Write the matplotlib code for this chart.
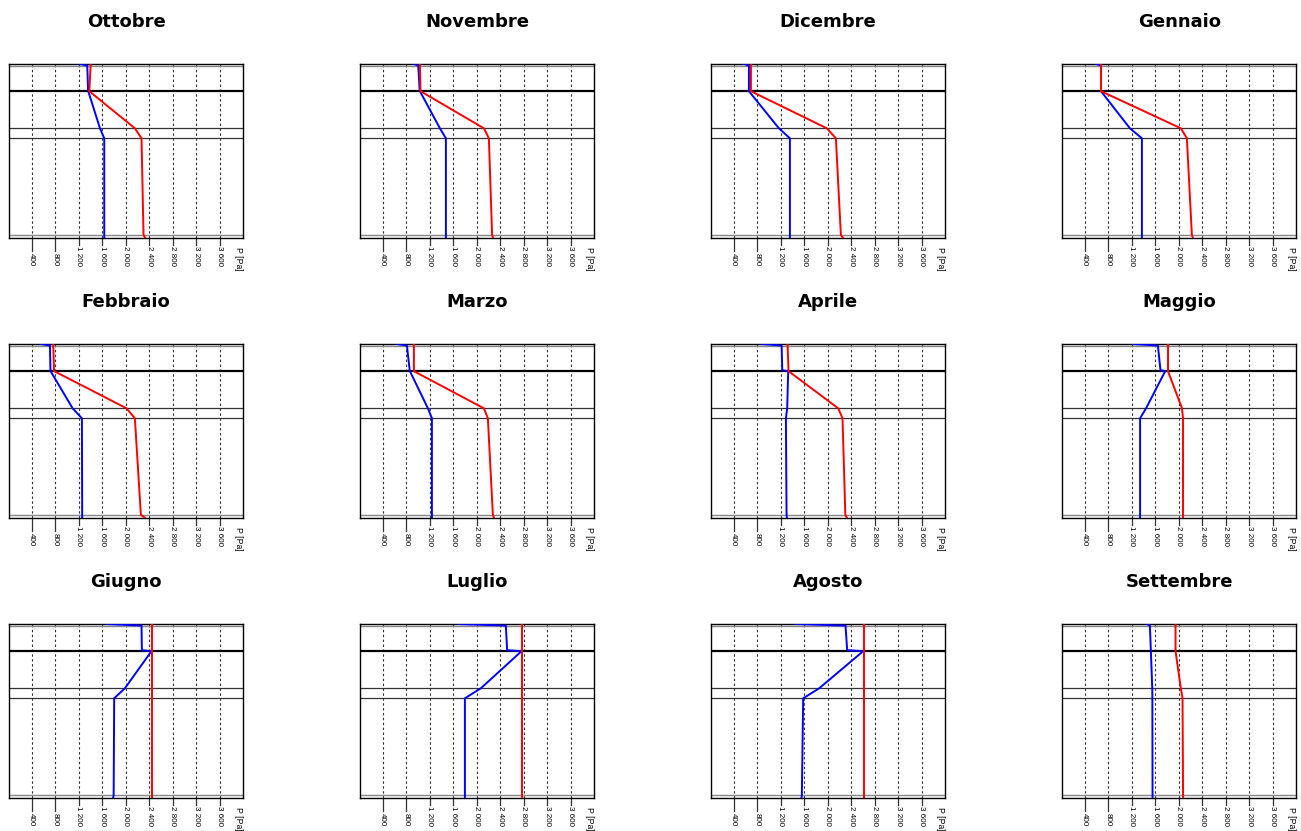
import matplotlib
matplotlib.use("Agg")
import matplotlib.pyplot as plt
import matplotlib.transforms as mtransforms

# Layer boundaries through the wall (exterior at top, interior at bottom)
depth = [0.0, 0.8, 1.6, 26.2, 27.2, 64.3, 74.3, 171.0, 173.7]
thin_lines = [1.6, 171.0]
layer_lines = [64.3, 74.3]
membrane_line = 26.7
p_ticks = [400, 800, 1200, 1600, 2000, 2400, 2800, 3200, 3600]

months = ["Ottobre", "Novembre", "Dicembre", "Gennaio",
          "Febbraio", "Marzo", "Aprile", "Maggio",
          "Giugno", "Luglio", "Agosto", "Settembre"]

# Vapour pressure (blue) and saturation pressure (red), Pa
pv_ott = [1222, 1290, 1346, 1360, 1363, 1562, 1635, 1635, 1635]
ps_ott = [1403, 1403, 1403, 1382, 1380, 2156, 2269, 2303, 2331]
pv_nov = [932, 970, 1006, 1030, 1034, 1374, 1476, 1476, 1476]
ps_nov = [1034, 1034, 1034, 1044, 1045, 2122, 2207, 2262, 2275]
pv_dic = [575, 620, 660, 660, 660, 1170, 1357, 1357, 1357]
ps_dic = [694, 694, 694, 694, 694, 1985, 2139, 2224, 2258]
pv_gen = [593, 640, 678, 678, 678, 1170, 1374, 1374, 1374]
ps_gen = [678, 678, 678, 678, 678, 2037, 2139, 2224, 2241]
pv_feb = [553, 640, 711, 720, 723, 1097, 1255, 1260, 1260]
ps_feb = [768, 768, 768, 780, 785, 2014, 2156, 2258, 2326]
pv_mar = [643, 730, 813, 860, 864, 1170, 1238, 1238, 1238]
ps_mar = [932, 932, 932, 932, 932, 2122, 2190, 2275, 2292]
pv_apr = [875, 1046, 1216, 1227, 1328, 1311, 1289, 1300, 1306]
ps_apr = [1318, 1318, 1318, 1333, 1335, 2178, 2252, 2300, 2326]
pv_mag = [1221, 1440, 1646, 1690, 1770, 1445, 1343, 1343, 1343]
ps_mag = [1818, 1818, 1818, 1818, 1818, 2056, 2073, 2073, 2073]
pv_giu = [1674, 1969, 2269, 2275, 2438, 1986, 1804, 1795, 1787]
ps_giu = [2455, 2455, 2455, 2455, 2455, 2455, 2455, 2455, 2455]
pv_lug = [1686, 2099, 2495, 2518, 2762, 2070, 1799, 1799, 1799]
ps_lug = [2773, 2773, 2773, 2773, 2773, 2773, 2773, 2773, 2773]
pv_ago = [1453, 1879, 2303, 2331, 2603, 1855, 1583, 1560, 1555]
ps_ago = [2615, 2615, 2615, 2615, 2615, 2615, 2615, 2615, 2615]
pv_set = [1453, 1485, 1510, 1526, 1527, 1550, 1552, 1555, 1555]
ps_set = [1946, 1946, 1946, 1946, 1946, 2036, 2065, 2074, 2076]

vapour = [pv_ott, pv_nov, pv_dic, pv_gen, pv_feb, pv_mar,
          pv_apr, pv_mag, pv_giu, pv_lug, pv_ago, pv_set]
saturation = [ps_ott, ps_nov, ps_dic, ps_gen, ps_feb, ps_mar,
              ps_apr, ps_mag, ps_giu, ps_lug, ps_ago, ps_set]

W, H = 1301, 831
fig = plt.figure(figsize=(W / 100, H / 100), dpi=100)
plt.rcParams["font.family"] = ["DejaVu Sans"]

ax_w, ax_h = 234.3, 173.7
tick_font = dict(family="Liberation Sans", size=5.8)

labels = []
for i, month in enumerate(months):
    row, col = divmod(i, 4)
    left = 9 + 351 * col
    top = 64 + 280 * row
    ax = fig.add_axes([left / W, 1 - (top + ax_h) / H, ax_w / W, ax_h / H])
    ax.set_xlim(15, 4000)
    ax.set_ylim(depth[-1], depth[0])
    for x in p_ticks:
        ax.axvline(x, color="#333333", lw=0.8, ls=(0, (2.2, 2.2)), zorder=1)
    for y in thin_lines:
        ax.axhline(y, color="#888888", lw=1.0, zorder=1)
    for y in layer_lines:
        ax.axhline(y, color="#333333", lw=0.9, zorder=1)
    ax.axhline(membrane_line, color="black", lw=1.6, zorder=1)
    ax.plot(vapour[i], depth, color="#0000ff", lw=1.4, zorder=3)
    ax.plot(saturation[i], depth, color="#ff0000", lw=1.4, zorder=4)
    ax.set_xticks([])
    ax.set_yticks([])
    for s in ax.spines.values():
        s.set_linewidth(1.0)
    ax.text(0.5, 1 + 42 / ax_h, month, transform=ax.transAxes, ha="center",
            va="center", fontsize=13, fontweight="bold")
    trans = mtransforms.blended_transform_factory(ax.transData, ax.transAxes)
    for x in p_ticks:
        t = ax.text(x, -28.5 / ax_h, "{:,}".format(x).replace(",", " "),
                    transform=trans, rotation=-90, rotation_mode="anchor",
                    ha="right", va="center", fontdict=tick_font, clip_on=False)
        labels.append((ax, x, t))
    ax.text(1 - 5 / ax_w, -9 / ax_h, "P [Pa]", transform=ax.transAxes,
            rotation=-90, ha="center", va="top", family="Liberation Sans",
            size=6.2)

# tick marks run from the axis down to the start of each label
fig.canvas.draw()
renderer = fig.canvas.get_renderer()
for ax, x, t in labels:
    bb = t.get_window_extent(renderer)
    ax_bb = ax.get_window_extent(renderer)
    y_end = (bb.y1 + 1.5 - ax_bb.y0) / ax_bb.height
    trans = mtransforms.blended_transform_factory(ax.transData, ax.transAxes)
    ax.plot([x, x], [0, y_end], transform=trans, color="#333333", lw=0.9,
            clip_on=False)

fig.savefig("out.png", dpi=100)
